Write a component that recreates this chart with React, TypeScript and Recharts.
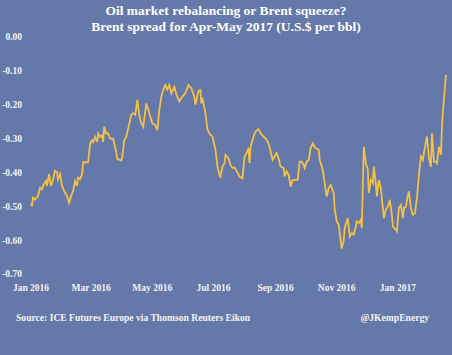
import React from "react";
import { LineChart, Line, XAxis, YAxis } from "recharts";

// days since 2016-01-01
const days = [
  0, 1, 2, 4, 7, 9, 11, 12, 15, 16, 18, 20, 22, 24, 26, 27, 29, 31, 33, 36,
  38, 40, 42, 44, 46, 47, 49, 51, 52, 54, 57, 59, 61, 62, 64, 66, 67, 69, 71, 72,
  73, 75, 77, 79, 82, 85, 86, 90, 91, 93, 95, 97, 100, 102, 104, 106, 108, 110, 112, 115,
  117, 119, 121, 124, 126, 128, 130, 132, 134, 136, 138, 140, 143, 145, 148, 150, 154, 157, 160, 163,
  164, 167, 169, 170, 171, 174, 176, 179, 181, 184, 186, 188, 189, 191, 193, 194, 197, 199, 201, 203,
  206, 208, 211, 213, 215, 217, 218, 219, 222, 224, 227, 229, 232, 234, 236, 238, 241, 243, 245, 247,
  249, 252, 253, 255, 257, 259, 261, 263, 266, 268, 270, 272, 273, 275, 277, 279, 281, 283, 284, 287,
  288, 291, 293, 295, 297, 299, 302, 303, 305, 307, 308, 310, 312, 313, 316, 318, 320, 322, 324, 325,
  327, 329, 330, 332, 334, 336, 337, 339, 341, 342, 344, 345, 347, 349, 350, 352, 354, 356, 358, 360,
  361, 364, 365, 367, 369, 371, 372, 374, 376, 377, 379, 381, 383, 385, 387, 389, 391, 392, 394, 395,
  397, 399, 400, 402, 404, 405, 407, 409, 410, 412, 414,
];

const spread = [
  -0.49, -0.5, -0.475, -0.48, -0.47, -0.445, -0.45, -0.44, -0.425, -0.44, -0.405, -0.44, -0.42, -0.395, -0.4, -0.42, -0.405, -0.44, -0.455, -0.47,
  -0.49, -0.47, -0.455, -0.425, -0.44, -0.415, -0.42, -0.405, -0.37, -0.37, -0.37, -0.315, -0.305, -0.31, -0.295, -0.31, -0.285, -0.295, -0.29, -0.31,
  -0.265, -0.285, -0.285, -0.3, -0.3, -0.34, -0.36, -0.365, -0.355, -0.305, -0.295, -0.27, -0.23, -0.225, -0.23, -0.186, -0.23, -0.255, -0.265, -0.196,
  -0.215, -0.235, -0.255, -0.26, -0.275, -0.215, -0.176, -0.156, -0.142, -0.155, -0.142, -0.166, -0.147, -0.17, -0.19, -0.18, -0.166, -0.142, -0.152, -0.176,
  -0.2, -0.16, -0.157, -0.196, -0.18, -0.225, -0.274, -0.289, -0.294, -0.333, -0.383, -0.407, -0.412, -0.383, -0.373, -0.348, -0.358, -0.378, -0.387, -0.385,
  -0.4, -0.412, -0.417, -0.353, -0.343, -0.328, -0.373, -0.324, -0.294, -0.279, -0.272, -0.284, -0.294, -0.299, -0.309, -0.324, -0.363, -0.353, -0.343, -0.358,
  -0.383, -0.387, -0.412, -0.397, -0.407, -0.442, -0.422, -0.422, -0.422, -0.368, -0.368, -0.378, -0.387, -0.368, -0.363, -0.328, -0.314, -0.324, -0.328, -0.333,
  -0.363, -0.392, -0.432, -0.471, -0.446, -0.437, -0.461, -0.51, -0.545, -0.555, -0.579, -0.625, -0.6, -0.564, -0.535, -0.589, -0.579, -0.584, -0.56, -0.545,
  -0.55, -0.54, -0.564, -0.324, -0.373, -0.392, -0.461, -0.422, -0.432, -0.383, -0.432, -0.471, -0.422, -0.446, -0.476, -0.535, -0.51, -0.501, -0.481, -0.525,
  -0.56, -0.569, -0.574, -0.505, -0.496, -0.535, -0.505, -0.501, -0.466, -0.456, -0.505, -0.525, -0.52, -0.476, -0.407, -0.353, -0.363, -0.343, -0.309, -0.294,
  -0.358, -0.383, -0.284, -0.368, -0.368, -0.373, -0.324, -0.348, -0.26, -0.181, -0.112,
];

const tickDays = [0, 60, 121, 182, 244, 305, 366];
const tickLabels = ["Jan 2016", "Mar 2016", "May 2016", "Jul 2016", "Sep 2016", "Nov 2016", "Jan 2017"];
const yTicks = [0, -0.1, -0.2, -0.3, -0.4, -0.5, -0.6, -0.7];

const titleLines = [
  "Oil market rebalancing or Brent squeeze?",
  "Brent spread for Apr-May 2017 (U.S.$ per bbl)",
];
const sourceText = "Source: ICE Futures Europe via Thomson Reuters Eikon";
const creditText = "@JKempEnergy";

const data = days.map((d, i) => ({ day: d, value: spread[i] }));

const BG = "#6479A9";
const FONT = "'Liberation Serif', 'DejaVu Serif', serif";
const TEXT = "#F2F2F2";

export default function App() {
  return (
    <div
      style={{
        position: "absolute",
        left: 0,
        top: 0,
        width: 452,
        height: 355,
        background: BG,
        fontFamily: FONT,
        overflow: "hidden",
      }}
    >
      <LineChart
        width={452}
        height={355}
        data={data}
        margin={{ top: 37, right: 4, bottom: 51, left: 0 }}
      >
        <XAxis
          dataKey="day"
          type="number"
          domain={[0, 416]}
          ticks={tickDays}
          tickFormatter={(v: number) => tickLabels[tickDays.indexOf(v)] ?? ""}
          axisLine={false}
          tickLine={false}
          tickSize={0}
          tickMargin={10}
          height={30}
          interval={0}
          tick={{ fill: TEXT, fontSize: 9.5, fontWeight: 700, fontFamily: FONT }}
        />
        <YAxis
          type="number"
          domain={[-0.7, 0]}
          ticks={yTicks}
          tickFormatter={(v: number) => v.toFixed(2)}
          axisLine={false}
          tickLine={false}
          tickSize={0}
          tickMargin={9}
          width={31}
          interval={0}
          tick={{ fill: TEXT, fontSize: 9.5, fontWeight: 700, fontFamily: FONT }}
        />
        <Line
          type="linear"
          dataKey="value"
          stroke="#F5C043"
          strokeWidth={1.8}
          dot={false}
          isAnimationActive={false}
        />
      </LineChart>
      <div
        style={{
          position: "absolute",
          left: 0,
          top: 3,
          width: 452,
          textAlign: "center",
          color: "#FFFFFF",
          fontWeight: 700,
          fontSize: 13.5,
          lineHeight: "16px",
        }}
      >
        {titleLines.map((t) => (
          <div key={t}>{t}</div>
        ))}
      </div>
      <div
        style={{
          position: "absolute",
          left: 16,
          top: 311,
          color: TEXT,
          fontWeight: 700,
          fontSize: 9.6,
          lineHeight: "14px",
          whiteSpace: "nowrap",
        }}
      >
        {sourceText}
      </div>
      <div
        style={{
          position: "absolute",
          right: 23,
          top: 311,
          color: TEXT,
          fontWeight: 700,
          fontSize: 9.6,
          lineHeight: "14px",
          whiteSpace: "nowrap",
        }}
      >
        {creditText}
      </div>
    </div>
  );
}
